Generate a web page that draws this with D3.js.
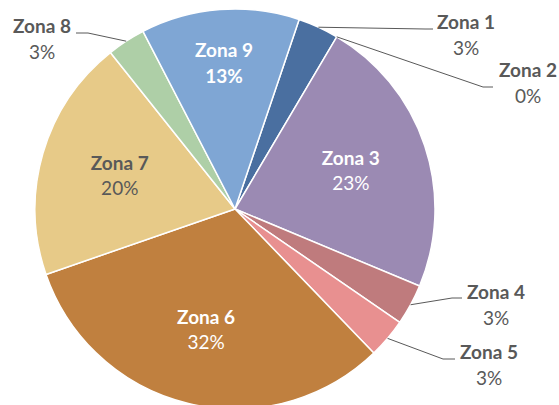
<!DOCTYPE html>
<html>
<head>
<meta charset="utf-8">
<title>Zonas</title>
<script src="https://cdn.jsdelivr.net/npm/d3@7/dist/d3.min.js"></script>
<style>
  body { margin: 0; background: #fff; }
  text { font-family: Lato, "Open Sans", sans-serif; }
</style>
</head>
<body>
<script>
// datos del gráfico
var zonas = ['Zona 1', 'Zona 2', 'Zona 3', 'Zona 4', 'Zona 5', 'Zona 6', 'Zona 7', 'Zona 8', 'Zona 9'];
var valores = [3.3, 0, 22.8, 3.3, 3.2, 31.9, 19.6, 3.1, 12.8];
var colores = ['#4a6fa0', '#6c8fb8', '#9b8ab3', '#bf7b7d', '#e89090', '#c0803f', '#e7ca88', '#aecfa7', '#7fa6d4'];

var width = 559, height = 405;
var cx = 235, cy = 209, radio = 200;
var inicio = 18.7 * Math.PI / 180; // ángulo del primer sector

// etiquetas dentro del sector: radio relativo y color
var dentro = {
  'Zona 3': { r: 0.61, color: '#ffffff', pctBold: false },
  'Zona 6': { r: 0.62, color: '#ffffff', pctBold: false },
  'Zona 7': { r: 0.6, color: '#595959', pctBold: false },
  'Zona 9': { r: 0.73, color: '#ffffff', pctBold: true }
};
// etiquetas fuera con línea guía (codo, fin de línea, texto)
var fuera = {
  'Zona 1': { codo: [425, 29], fin: [433, 29], tx: 466, ty: 29 },
  'Zona 2': { codo: [483, 87], fin: [493, 87], tx: 528, ty: 77 },
  'Zona 4': { codo: [452, 298], fin: [462, 298], tx: 496, ty: 299 },
  'Zona 5': { codo: [443, 359], fin: [455, 359], tx: 489, ty: 359 },
  'Zona 8': { codo: [88, 33], fin: [76, 33], tx: 42, ty: 33 }
};

var svg = d3.select('body').append('svg')
  .attr('width', width)
  .attr('height', height);

var g = svg.append('g').attr('transform', 'translate(' + cx + ',' + cy + ')');

var pie = d3.pie()
  .sort(null)
  .startAngle(inicio)
  .endAngle(inicio + 2 * Math.PI)
  .value(function(d) { return d; });

var arcos = pie(valores);
var total = d3.sum(valores);
var fmt = function(v) { return Math.round(v / total * 100) + '%'; };

var arc = d3.arc().innerRadius(0).outerRadius(radio);

g.selectAll('path.sector')
  .data(arcos.filter(function(d) { return d.value > 0; }))
  .enter()
  .append('path')
  .attr('class', 'sector')
  .attr('d', arc)
  .attr('fill', function(d) { return colores[d.index]; })
  .attr('stroke', '#ffffff')
  .attr('stroke-width', 1.5)
  .attr('stroke-linejoin', 'round');

// etiquetas
arcos.forEach(function(d, i) {
  var nombre = zonas[i];
  var medio = (d.startAngle + d.endAngle) / 2;
  var lx, ly, color, pctBold, x0, y0;

  if (dentro[nombre]) {
    var r = dentro[nombre].r * radio;
    lx = cx + r * Math.sin(medio);
    ly = cy - r * Math.cos(medio) - 6; // centrar el bloque de dos líneas
    color = dentro[nombre].color;
    pctBold = dentro[nombre].pctBold;
  } else {
    var f = fuera[nombre];
    x0 = cx + radio * Math.sin(medio);
    y0 = cy - radio * Math.cos(medio);
    svg.append('polyline')
      .attr('points', [[x0, y0], f.codo, f.fin].map(function(p) { return p.join(','); }).join(' '))
      .attr('fill', 'none')
      .attr('stroke', '#595959')
      .attr('stroke-width', 1);
    lx = f.tx;
    ly = f.ty;
    color = '#595959';
    pctBold = false;
  }

  svg.append('text')
    .attr('x', lx)
    .attr('y', ly)
    .attr('text-anchor', 'middle')
    .attr('font-size', '19px')
    .attr('font-weight', 'bold')
    .attr('fill', color)
    .text(nombre);

  svg.append('text')
    .attr('x', lx)
    .attr('y', ly + 25.5)
    .attr('text-anchor', 'middle')
    .attr('font-size', '19px')
    .attr('font-weight', pctBold ? 'bold' : 'normal')
    .attr('fill', color)
    .text(fmt(valores[i]));
});
</script>
</body>
</html>
